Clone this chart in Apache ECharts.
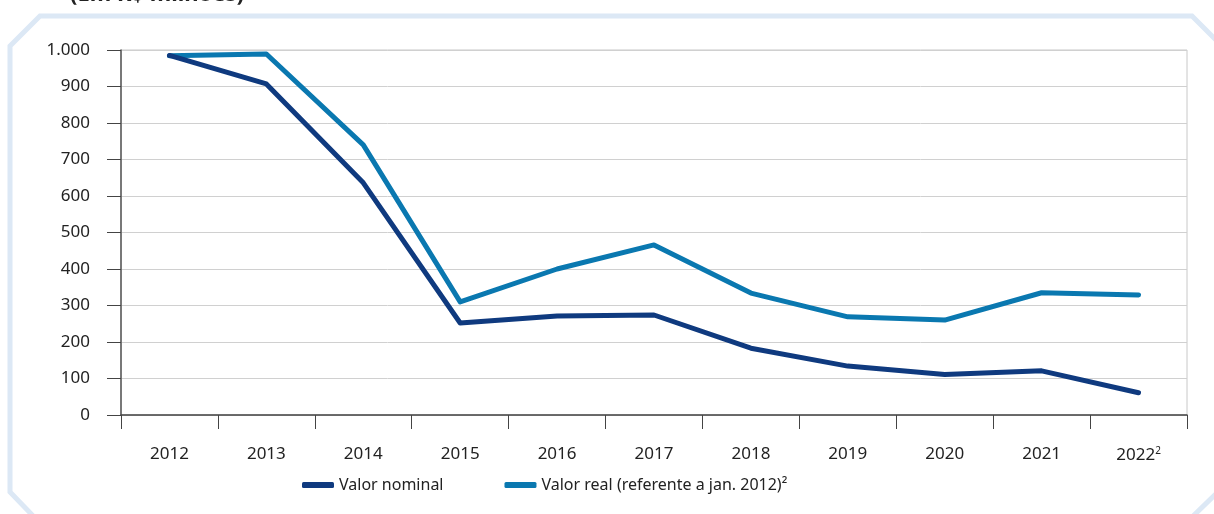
<!DOCTYPE html>
<html>
<head>
<meta charset="utf-8">
<script src="https://cdn.jsdelivr.net/npm/echarts@6/dist/echarts.min.js"></script>
<style>
html,body{margin:0;padding:0;background:#fff;}
#c{width:1214px;height:514px;}
</style>
</head>
<body>
<div id="c"></div>
<script>
const categories = ['2012','2013','2014','2015','2016','2017','2018','2019','2020','2021','2022²'];
const nominal = [985, 907, 636, 252, 271, 274, 183, 134, 111, 121, 61];
const real = [984, 989, 740, 310, 400, 466, 334, 269, 260, 335, 329];
const yTicks = [0, 100, 200, 300, 400, 500, 600, 700, 800, 900, 1000];
const seriesNames = ['Valor nominal', 'Valor real (referente a jan. 2012)²'];
const titleText = '(Em R$ milhões)';

const FONT = 'Noto Sans';
const chart = echarts.init(document.getElementById('c'));
chart.setOption({
  animation: false,
  textStyle: { fontFamily: FONT },
  grid: { left: 121, right: 27, top: 50, bottom: 99, show: true, borderColor: '#c8c8c8', borderWidth: 1 },
  graphic: [
    {
      type: 'polygon',
      shape: { points: [[40,16],[1192,16],[1222,46],[1222,488],[1188,521],[38,521],[10,492],[10,46]] },
      style: { fill: 'none', stroke: '#dce8f5', lineWidth: 5 },
      z: 0
    },
    {
      type: 'text', left: 70, top: -16,
      style: { text: titleText, font: 'bold 22px "Noto Sans"', fill: '#222' }
    }
  ],
  legend: {
    left: 297, top: 472, itemGap: 61, itemWidth: 32, itemHeight: 6,
    icon: 'roundRect',
    textStyle: { fontSize: 16, color: '#222', fontFamily: FONT },
    data: seriesNames
  },
  xAxis: {
    type: 'category',
    data: categories,
    boundaryGap: true,
    axisLine: { lineStyle: { color: '#444', width: 1.5 } },
    axisTick: { show: true, length: 14, lineStyle: { color: '#444' } },
    axisLabel: {
      interval: 0, margin: 31, fontSize: 17, color: '#222', fontFamily: FONT,
      formatter: function (v) {
        if (v.indexOf('²') >= 0) return v.replace('²', '') + '{sup|2}';
        return v;
      },
      rich: { sup: { fontSize: 10, verticalAlign: 'top', padding: [0,0,9,0], color: '#222' } }
    },
    splitLine: { show: false }
  },
  yAxis: {
    type: 'value', min: 0, max: 1000, interval: 100,
    axisLine: { show: true, lineStyle: { color: '#555', width: 1.5 } },
    axisTick: { show: true, length: 14, lineStyle: { color: '#444' } },
    axisLabel: {
      margin: 31, fontSize: 17, color: '#222', fontFamily: FONT,
      formatter: function (v) { return v >= 1000 ? (v/1000).toFixed(0) + '.' + String(v % 1000).padStart(3,'0') : String(v); }
    },
    splitLine: { show: true, lineStyle: { color: '#d0d0d0', width: 1 } }
  },
  series: [
    {
      name: seriesNames[0], type: 'line', data: nominal,
      symbol: 'none', lineStyle: { width: 5, color: '#0f3a7f', cap: 'round', join: 'round' },
      itemStyle: { color: '#0f3a7f' }, z: 3
    },
    {
      name: seriesNames[1], type: 'line', data: real,
      symbol: 'none', lineStyle: { width: 5, color: '#0a78b0', cap: 'round', join: 'round' },
      itemStyle: { color: '#0a78b0' }, z: 2
    }
  ]
});
</script>
</body>
</html>
